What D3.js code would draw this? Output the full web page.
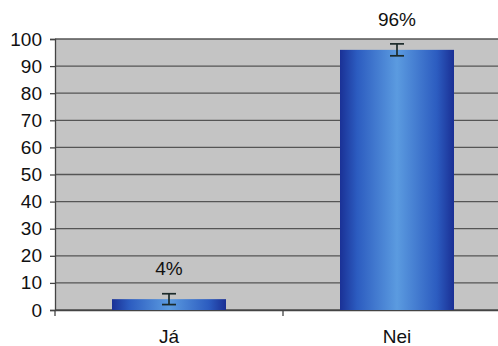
<!DOCTYPE html>
<html><head><meta charset="utf-8">
<script src="https://cdn.jsdelivr.net/npm/d3@7"></script>
<style>body{margin:0;background:#fff}svg{display:block}</style>
</head><body><svg id="c" width="498" height="346"></svg>
<script>
const categories = ["Já", "Nei"];
const values = [4, 96];
const errors = [2, 2.2];
const labels = ["4%", "96%"];
const yTicks = [0,10,20,30,40,50,60,70,80,90,100];

const svg = d3.select("#c");
const mLeft = 55, mRight = 511, mTop = 39, mBottom = 310;
const FONT = "Liberation Sans, Arial, sans-serif";
const x = d3.scaleBand().domain(categories).range([mLeft, mRight]).paddingInner(0.5).paddingOuter(0.25);
const y = d3.scaleLinear().domain([0,100]).range([mBottom, mTop]);

const defs = svg.append("defs");
const g = defs.append("linearGradient").attr("id","bg").attr("x1","0").attr("x2","1").attr("y1","0").attr("y2","0");
g.append("stop").attr("offset","0%").attr("stop-color","#1a3196");
g.append("stop").attr("offset","15%").attr("stop-color","#2c5cc0");
g.append("stop").attr("offset","50%").attr("stop-color","#5b9be0");
g.append("stop").attr("offset","85%").attr("stop-color","#2c5cc0");
g.append("stop").attr("offset","100%").attr("stop-color","#1a2f94");

svg.append("rect").attr("x", mLeft).attr("y", mTop).attr("width", mRight-mLeft).attr("height", mBottom-mTop).attr("fill", "#c4c4c4");

svg.append("g").selectAll("line").data(yTicks).join("line")
  .attr("x1", mLeft).attr("x2", mRight).attr("y1", d=>y(d)).attr("y2", d=>y(d))
  .attr("stroke", "#555").attr("stroke-width", 1.3);

const yAxis = svg.append("g").attr("transform", `translate(${mLeft},0)`)
  .call(d3.axisLeft(y).tickValues(yTicks).tickSize(5).tickPadding(8));
yAxis.select(".domain").attr("stroke","#444").attr("stroke-width",1.3);
yAxis.selectAll(".tick line").attr("stroke","#444").attr("stroke-width",1.3);
yAxis.selectAll("text").attr("font-family",FONT).attr("font-size",19).attr("fill","#111");

const xAxis = svg.append("g").attr("transform", `translate(0,${mBottom})`)
  .call(d3.axisBottom(x).tickSize(0).tickPadding(20));
xAxis.select(".domain").attr("stroke","#444").attr("stroke-width",1.3);
xAxis.selectAll("text").attr("font-family",FONT).attr("font-size",19).attr("fill","#111");
const seps = [mLeft, mLeft + x.step()];
svg.append("g").selectAll("line").data(seps).join("line")
  .attr("x1", d=>d).attr("x2", d=>d).attr("y1", mBottom).attr("y2", mBottom+6)
  .attr("stroke","#444").attr("stroke-width",1.3);

svg.append("g").selectAll("rect").data(categories).join("rect")
  .attr("x", d=>x(d)).attr("width", x.bandwidth())
  .attr("y", (d,i)=>y(values[i])).attr("height", (d,i)=>y(0)-y(values[i]))
  .attr("fill","url(#bg)");

const eb = svg.append("g").attr("stroke","#1b2a2a").attr("stroke-width",1.7);
categories.forEach((c,i)=>{
  const cx = x(c) + x.bandwidth()/2;
  eb.append("line").attr("x1",cx).attr("x2",cx).attr("y1",y(values[i]+errors[i])).attr("y2",y(values[i]-errors[i]));
  eb.append("line").attr("x1",cx-7).attr("x2",cx+7).attr("y1",y(values[i]+errors[i])).attr("y2",y(values[i]+errors[i]));
  eb.append("line").attr("x1",cx-7).attr("x2",cx+7).attr("y1",y(values[i]-errors[i])).attr("y2",y(values[i]-errors[i]));
});

svg.append("g").selectAll("text").data(categories).join("text")
  .attr("x", d=>x(d)+x.bandwidth()/2)
  .attr("y", (d,i)=>y(values[i]) - 24)
  .attr("text-anchor","middle")
  .attr("font-family",FONT).attr("font-size",19).attr("fill","#111")
  .text((d,i)=>labels[i]);
</script></body></html>
